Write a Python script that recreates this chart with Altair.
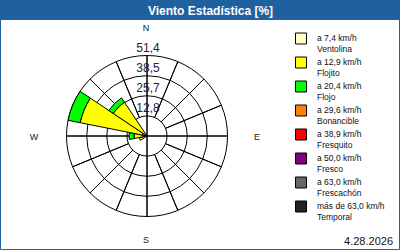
import math
import altair as alt
import pandas as pd

directions = ["N", "NNE", "NE", "ENE", "E", "ESE", "SE", "SSE",
              "S", "SSW", "SW", "WSW", "W", "WNW", "NW", "NNW"]
classes = ["Ventolina", "Flojito", "Flojo", "Bonancible",
           "Fresquito", "Fresco", "Frescachón", "Temporal"]
class_ranges = ["a 7,4 km/h", "a 12,9 km/h", "a 20,4 km/h", "a 29,6 km/h",
                "a 38,9 km/h", "a 50,0 km/h", "a 63,0 km/h", "más de 63,0 km/h"]
class_colors = ["#ffffc0", "#ffff00", "#00ff00", "#ff8000",
                "#ff0000", "#800080", "#666666", "#222222"]

ventolina  = [0, 0, 0, 0, 0, 0, 0, 0, 0, 0, 0, 1.0, 2.5, 3.0, 2.0, 0]
flojito    = [0, 0, 0, 0, 0, 0, 0, 0, 0, 0, 0, 4.0, 5.8, 40.5, 24.0, 0]
flojo      = [0, 0, 0, 0, 0, 0, 0, 0, 0, 0, 0, 0, 3.2, 7.9, 3.3, 0]
bonancible = [0] * 16
fresquito  = [0] * 16
fresco     = [0] * 16
frescachon = [0] * 16
temporal   = [0] * 16
series = [ventolina, flojito, flojo, bonancible,
          fresquito, fresco, frescachon, temporal]

ring_values = [12.8, 25.7, 38.5, 51.4]
ring_labels = ["12,8", "25,7", "38,5", "51,4"]
title_text = "Viento Estadística [%]"
date_text = "4.28.2026"

step = 360 / len(directions)
rows = []
for i, d in enumerate(directions):
    cum = 0.0
    for c, vals in zip(classes, series):
        v = vals[i]
        if v > 0:
            rows.append({"dir": d, "cls": c, "r0": cum, "r1": cum + v,
                         "ta": i * step - step / 2, "tb": i * step + step / 2})
        cum += v
wedges = pd.DataFrame(rows)

spoke_rows = []
for i, d in enumerate(directions):
    b = i * step
    inner = 0.0 if i % 4 == 0 else ring_values[0]
    spoke_rows.append({"ta": b, "tb": b, "r0": inner, "r1": ring_values[-1]})
spokes = pd.DataFrame(spoke_rows)

rings = pd.DataFrame({"r": ring_values, "label": ring_labels,
                      "t0": [0] * 4, "t1": [360] * 4})
legend_df = pd.DataFrame({"idx": list(range(len(classes))), "cls": classes,
                          "l1": class_ranges, "l2": classes})
one = pd.DataFrame({"k": [0]})

CX, CY = 147, 136
rscale = alt.Scale(type="linear", domain=[0, ring_values[-1]], range=[0, 80.5])
tscale = alt.Scale(type="linear", domain=[0, 360], range=[0, 2 * math.pi])
cscale = alt.Scale(domain=classes, range=class_colors)
yleg = alt.Scale(domain=[0, len(classes) - 1], range=[38.5, 206.5], nice=False)
BLUE = "#1f609f"
FONT = "Liberation Sans"

bar = alt.Chart(one).mark_rect(color=BLUE).encode(
    x=alt.value(0), x2=alt.value(400), y=alt.value(0), y2=alt.value(20))
border = alt.Chart(one).mark_rect(fillOpacity=0, stroke=BLUE, strokeWidth=1).encode(
    x=alt.value(0.5), x2=alt.value(399.5), y=alt.value(0.5), y2=alt.value(249.5))

ring_layer = alt.Chart(rings).mark_arc(fillOpacity=0, stroke="black", strokeWidth=1).encode(
    x=alt.value(CX), y=alt.value(CY),
    theta=alt.Theta("t0:Q", scale=tscale, stack=False), theta2="t1:Q",
    radius=alt.Radius("r:Q", scale=rscale, stack=False))

spoke_layer = alt.Chart(spokes).mark_arc(fill="black", stroke="black", strokeWidth=1).encode(
    x=alt.value(CX), y=alt.value(CY),
    theta=alt.Theta("ta:Q", scale=tscale, stack=False), theta2="tb:Q",
    radius=alt.Radius("r1:Q", scale=rscale, stack=False), radius2="r0:Q")

wedge_layer = alt.Chart(wedges).mark_arc(stroke="black", strokeWidth=1).encode(
    x=alt.value(CX), y=alt.value(CY),
    theta=alt.Theta("ta:Q", scale=tscale, stack=False), theta2="tb:Q",
    radius=alt.Radius("r1:Q", scale=rscale, stack=False), radius2="r0:Q",
    color=alt.Color("cls:N", scale=cscale, legend=None))

ring_text = alt.Chart(rings).mark_text(
    font=FONT, fontSize=12, color="#1c1c3c", dy=-8, dx=1,
    align="center", baseline="middle").encode(
    x=alt.value(CX), y=alt.value(CY),
    theta=alt.Theta("t0:Q", scale=tscale, stack=False),
    radius=alt.Radius("r:Q", scale=rscale, stack=False),
    text="label:N")

def label(txt, x, y, size, **kw):
    return alt.Chart(one).mark_text(font=FONT, fontSize=size, baseline="middle", **kw).encode(
        x=alt.value(x), y=alt.value(y), text=alt.value(txt))

compass = [
    label("N", 146, 28, 9, align="center", color="#202020"),
    label("E", 257, 137, 9, align="center", color="#202020"),
    label("S", 146, 240, 9, align="center", color="#202020"),
    label("W", 34, 137, 9, align="center", color="#202020"),
]

leg_sq = alt.Chart(legend_df).mark_square(size=121, filled=True, opacity=1,
                                          stroke="black", strokeWidth=1).encode(
    x=alt.value(301), y=alt.Y("idx:Q", scale=yleg, axis=None),
    color=alt.Color("cls:N", scale=cscale, legend=None))
leg_t1 = alt.Chart(legend_df).mark_text(font=FONT, fontSize=8.5, align="left",
                                        baseline="middle", dy=-1, color="#111111").encode(
    x=alt.value(317), y=alt.Y("idx:Q", scale=yleg, axis=None), text="l1:N")
leg_t2 = alt.Chart(legend_df).mark_text(font=FONT, fontSize=8.5, align="left",
                                        baseline="middle", dy=10, color="#111111").encode(
    x=alt.value(317), y=alt.Y("idx:Q", scale=yleg, axis=None), text="l2:N")

title = label(title_text, 210.5, 10.5, 12, align="center", color="white", fontWeight="bold")
date = label(date_text, 393, 241.5, 11, align="right", color="#111111")

chart = alt.layer(
    bar, border, ring_layer, spoke_layer, wedge_layer, ring_text,
    *compass, leg_sq, leg_t1, leg_t2, date, title
).properties(
    width=400, height=250, autosize="none", padding=0, background="white"
).configure_view(strokeWidth=0)

chart.save("out.html", embed_options={"renderer": "svg", "actions": False})
